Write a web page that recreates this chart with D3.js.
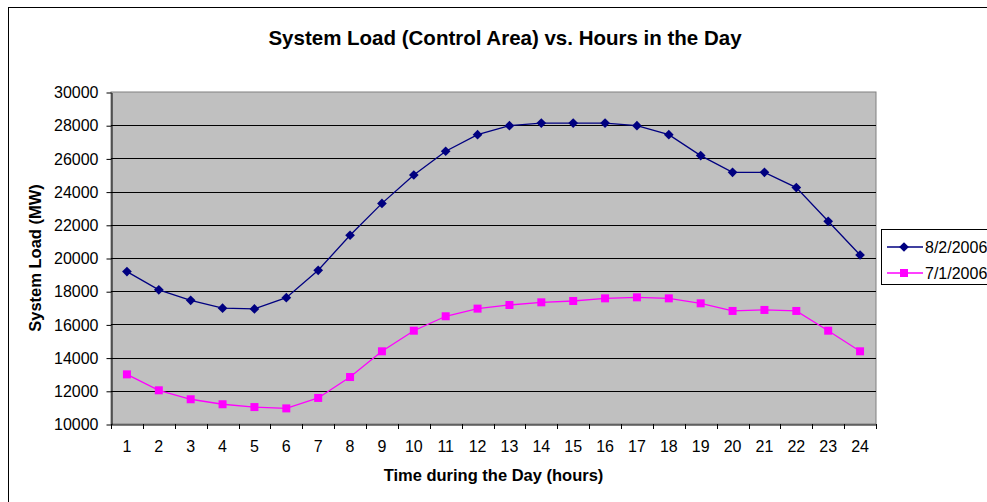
<!DOCTYPE html>
<html>
<head>
<meta charset="utf-8">
<script src="https://cdn.jsdelivr.net/npm/d3@7"></script>
<style>
  body { margin: 0; background: #fff; overflow: hidden; }
  svg { font-family: "Liberation Sans", Arial, sans-serif; display: block; }
</style>
</head>
<body>
<div id="chart"></div>
<script>
const width = 987,
  height = 502,
  margin = { top: 92, bottom: 78, left: 111, right: 111 };

const hours = d3.range(1, 25);
const seriesNames = ["8/2/2006", "7/1/2006"];
const load0802 = [19180, 18080, 17450, 16980, 16930, 17610, 19260, 21370, 23290, 25000, 26430, 27430,
  27970, 28130, 28130, 28130, 27970, 27430, 26170, 25160, 25160, 24240, 22210, 20180];
const load0701 = [12990, 12030, 11490, 11190, 11020, 10940, 11570, 12830, 14380, 15620, 16490, 16950,
  17170, 17330, 17410, 17570, 17630, 17570, 17270, 16810, 16870, 16810, 15620, 14380];
const yTicks = d3.range(10000, 30001, 2000);
const colors = ["#000080", "#ff00ff"];

const svg = d3.select("#chart").append("svg")
  .attr("width", width)
  .attr("height", height);

// chart frame
svg.append("rect")
  .attr("x", 8.5).attr("y", 7.5)
  .attr("width", width + 10).attr("height", height + 10)
  .attr("fill", "#fff").attr("stroke", "#000").attr("stroke-width", 1);

const xScale = d3.scaleBand()
  .domain(hours)
  .range([margin.left, width - margin.right]);

const yScale = d3.scaleLinear()
  .domain([10000, 30000])
  .range([height - margin.bottom, margin.top]);

// plot area
svg.append("rect")
  .attr("x", margin.left).attr("y", margin.top)
  .attr("width", width - margin.left - margin.right)
  .attr("height", height - margin.bottom - margin.top)
  .attr("fill", "#c0c0c0")
  .attr("stroke", "#808080");

// gridlines
svg.append("g")
  .selectAll("line")
  .data(yTicks.slice(1, -1))
  .join("line")
  .attr("x1", margin.left).attr("x2", width - margin.right)
  .attr("y1", d => Math.round(yScale(d)) + 0.5)
  .attr("y2", d => Math.round(yScale(d)) + 0.5)
  .attr("stroke", "#000");

const yAxis = d3.axisLeft(yScale)
  .tickValues(yTicks)
  .tickFormat(d3.format("d"))
  .tickSize(5).tickSizeOuter(0).tickPadding(8);
const gy = svg.append("g")
  .attr("transform", `translate(${margin.left + 0.5},0.5)`)
  .call(yAxis);
gy.selectAll("text").attr("font-size", 16).attr("fill", "#000").attr("font-family", "Liberation Sans, Arial");

const xAxis = d3.axisBottom(xScale).tickSize(0).tickPadding(16);
const gx = svg.append("g")
  .attr("transform", `translate(0,${height - margin.bottom + 0.5})`)
  .call(xAxis);
gx.select(".domain").attr("stroke", "#000");
gx.selectAll("text").attr("font-size", 16).attr("fill", "#000").attr("font-family", "Liberation Sans, Arial");

// category boundary ticks
svg.append("g")
  .selectAll("line")
  .data(d3.range(0, 25))
  .join("line")
  .attr("x1", i => Math.round(margin.left + i * xScale.step()) + 0.5)
  .attr("x2", i => Math.round(margin.left + i * xScale.step()) + 0.5)
  .attr("y1", height - margin.bottom)
  .attr("y2", height - margin.bottom + 5)
  .attr("stroke", "#000");

const xPos = d => xScale(d) + xScale.bandwidth() / 2;

const line = d3.line()
  .x((d, i) => xPos(hours[i]))
  .y(d => yScale(d));

[load0802, load0701].forEach((vals, k) => {
  svg.append("path")
    .datum(vals)
    .attr("d", line)
    .attr("fill", "none")
    .attr("stroke", colors[k])
    .attr("stroke-width", 1.3);
});

const diamond = d3.symbol().type(d3.symbolDiamond2).size(60);

svg.append("g")
  .selectAll("path")
  .data(load0802)
  .join("path")
  .attr("transform", (d, i) => `translate(${xPos(hours[i])},${yScale(d)})`)
  .attr("d", diamond)
  .attr("fill", colors[0]);

svg.append("g")
  .selectAll("rect")
  .data(load0701)
  .join("rect")
  .attr("x", (d, i) => xPos(hours[i]) - 4)
  .attr("y", d => yScale(d) - 4)
  .attr("width", 8).attr("height", 8)
  .attr("fill", colors[1]);

// titles
svg.append("text")
  .attr("x", 505).attr("y", 45)
  .attr("text-anchor", "middle")
  .attr("font-size", 20.5).attr("font-weight", "bold")
  .text("System Load (Control Area) vs. Hours in the Day");

svg.append("text")
  .attr("x", (margin.left + width - margin.right) / 2)
  .attr("y", 481)
  .attr("text-anchor", "middle")
  .attr("font-size", 16.5).attr("font-weight", "bold")
  .text("Time during the Day (hours)");

svg.append("text")
  .attr("transform", `translate(41,${(margin.top + height - margin.bottom) / 2}) rotate(-90)`)
  .attr("text-anchor", "middle")
  .attr("font-size", 16.5).attr("font-weight", "bold")
  .text("System Load (MW)");

// legend
const legend = svg.append("g");
legend.append("rect")
  .attr("x", 881.5).attr("y", 229.5)
  .attr("width", 120).attr("height", 55)
  .attr("fill", "#fff").attr("stroke", "#000");

seriesNames.forEach((name, k) => {
  const ly = 247 + k * 26;
  legend.append("line")
    .attr("x1", 887).attr("x2", 923)
    .attr("y1", ly).attr("y2", ly)
    .attr("stroke", colors[k]).attr("stroke-width", 1.3);
  if (k === 0) {
    legend.append("path")
      .attr("transform", `translate(904,${ly})`)
      .attr("d", diamond).attr("fill", colors[k]);
  } else {
    legend.append("rect")
      .attr("x", 900).attr("y", ly - 4).attr("width", 8).attr("height", 8)
      .attr("fill", colors[k]);
  }
  legend.append("text")
    .attr("x", 925).attr("y", ly + 6)
    .attr("font-size", 16)
    .text(name);
});
</script>
</body>
</html>
